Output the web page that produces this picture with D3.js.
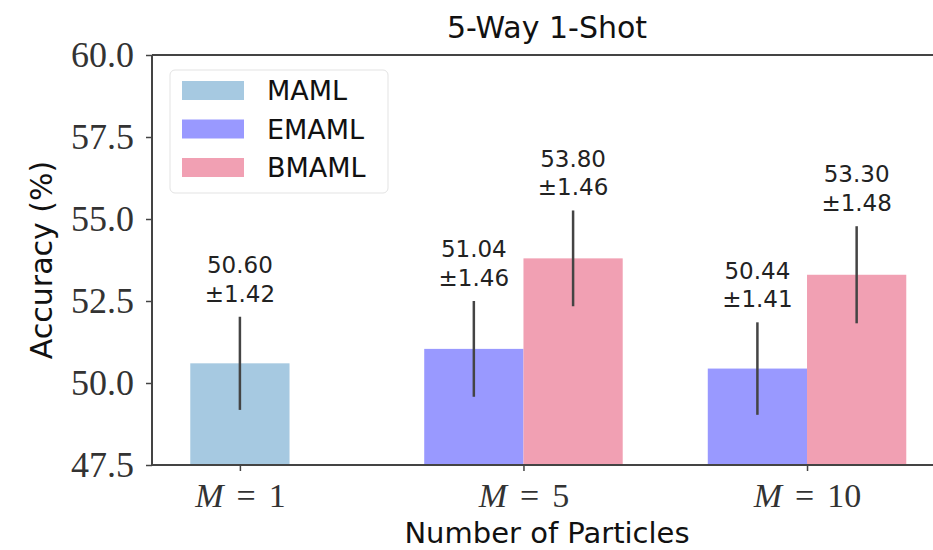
<!DOCTYPE html>
<html>
<head>
<meta charset="utf-8">
<script src="https://cdn.jsdelivr.net/npm/d3@7"></script>
<style>
  body { margin: 0; background: #fff; }
  svg { display: block; }
</style>
</head>
<body>
<div id="wrapper"></div>
<script>
const groupLabels = ['1', '5', '10']
const methods = ['MAML', 'EMAML', 'BMAML']
const methodColors = ['#a6c9e1', '#9999ff', '#f1a0b3']

// group index each bar belongs to, mean and std
const mamlGroups = [0]
const mamlMean = [50.60]
const mamlErr = [1.42]

const emamlGroups = [1, 2]
const emamlMean = [51.04, 50.44]
const emamlErr = [1.46, 1.41]

const bmamlGroups = [1, 2]
const bmamlMean = [53.80, 53.30]
const bmamlErr = [1.46, 1.48]

const yTicks = [47.5, 50.0, 52.5, 55.0, 57.5, 60.0]

const dimensions = {
  width: 933,
  height: 550,
  margins: { top: 55, left: 152, bottom: 85, right: -9 },
}
dimensions.boundedWidth = dimensions.width - dimensions.margins.left - dimensions.margins.right
dimensions.boundedHeight = dimensions.height - dimensions.margins.top - dimensions.margins.bottom

const barWidth = 0.35
const offsets = [0, -barWidth / 2, barWidth / 2]

const bars = []
const addSeries = (k, groups, means, errs) => {
  groups.forEach((g, i) => bars.push({
    method: k, x: g + offsets[k], mean: means[i], err: errs[i],
  }))
}
addSeries(0, mamlGroups, mamlMean, mamlErr)
addSeries(1, emamlGroups, emamlMean, emamlErr)
addSeries(2, bmamlGroups, bmamlMean, bmamlErr)

const wrapper = d3.select('#wrapper')
  .append('svg')
    .attr('width', dimensions.width)
    .attr('height', dimensions.height)

const bounds = wrapper.append('g')
    .attr('transform', `translate(${dimensions.margins.left},${dimensions.margins.top})`)

const xScale = d3.scaleLinear()
    .domain([-0.31, 2.476])
    .range([0, dimensions.boundedWidth])

const yScale = d3.scaleLinear()
    .domain([47.5, 60])
    .range([dimensions.boundedHeight, 0])

// bars
const bw = xScale(barWidth) - xScale(0)
bounds.append('g')
  .selectAll('rect')
  .data(bars)
  .join('rect')
    .attr('x', d => xScale(d.x) - bw / 2)
    .attr('y', d => yScale(d.mean))
    .attr('width', bw)
    .attr('height', d => dimensions.boundedHeight - yScale(d.mean))
    .attr('fill', d => methodColors[d.method])

// error bars
bounds.append('g')
  .selectAll('line')
  .data(bars)
  .join('line')
    .attr('x1', d => xScale(d.x))
    .attr('x2', d => xScale(d.x))
    .attr('y1', d => yScale(d.mean - d.err))
    .attr('y2', d => yScale(d.mean + d.err))
    .attr('stroke', '#444')
    .attr('stroke-width', 2.5)

// value labels
const labels = bounds.append('g')
  .selectAll('text')
  .data(bars)
  .join('text')
    .attr('x', d => xScale(d.x))
    .attr('y', d => yScale(d.mean + d.err) - 15)
    .attr('text-anchor', 'middle')
    .style('font-family', 'DejaVu Sans, sans-serif')
    .style('font-size', '23px')
    .attr('fill', '#222')
labels.append('tspan')
    .attr('x', d => xScale(d.x))
    .attr('dy', '-1.25em')
    .text(d => d.mean.toFixed(2))
labels.append('tspan')
    .attr('x', d => xScale(d.x))
    .attr('dy', '1.25em')
    .text(d => '\u00b1' + d.err.toFixed(2))

// axes
const yAxis = bounds.append('g')
  .call(d3.axisLeft(yScale).tickValues(yTicks).tickFormat(d3.format('.1f')).tickSize(6).tickPadding(12))
yAxis.select('.domain').remove()
yAxis.selectAll('line').attr('stroke', '#444').attr('stroke-width', 1.5)
yAxis.selectAll('text')
    .style('font-family', 'Liberation Serif, serif')
    .style('font-size', '36px')
    .attr('fill', '#333')

const xAxis = bounds.append('g')
    .attr('transform', `translate(0,${dimensions.boundedHeight})`)
  .call(d3.axisBottom(xScale).tickValues([0, 1, 2]).tickSize(6).tickPadding(12))
xAxis.select('.domain').remove()
xAxis.selectAll('line').attr('stroke', '#444').attr('stroke-width', 1.5)
xAxis.selectAll('text')
    .style('font-family', 'Liberation Serif, serif')
    .style('font-size', '34px')
    .attr('fill', '#333')
    .attr('dy', '0.7em')
    .text('')
    .each(function (d) {
      const t = d3.select(this)
      t.append('tspan').style('font-style', 'italic').text('M')
      t.append('tspan').attr('dx', 13).text('=')
      t.append('tspan').attr('dx', 13).text(groupLabels[d])
    })

// spines
const spines = bounds.append('g')
    .attr('stroke', '#444')
    .attr('stroke-width', 2)
spines.append('line')
    .attr('x1', 0).attr('x2', dimensions.boundedWidth)
    .attr('y1', 0).attr('y2', 0)
spines.append('line')
    .attr('x1', 0).attr('x2', dimensions.boundedWidth)
    .attr('y1', dimensions.boundedHeight).attr('y2', dimensions.boundedHeight)
spines.append('line')
    .attr('x1', 0).attr('x2', 0)
    .attr('y1', 0).attr('y2', dimensions.boundedHeight)
spines.append('line')
    .attr('x1', dimensions.boundedWidth).attr('x2', dimensions.boundedWidth)
    .attr('y1', 0).attr('y2', dimensions.boundedHeight)

// title and axis labels
wrapper.append('text')
    .attr('x', dimensions.margins.left + dimensions.boundedWidth / 2)
    .attr('y', 38)
    .attr('text-anchor', 'middle')
    .style('font-family', 'DejaVu Sans, sans-serif')
    .style('font-size', '30px')
    .attr('fill', '#111')
    .text('5-Way 1-Shot')

wrapper.append('text')
    .attr('x', dimensions.margins.left + dimensions.boundedWidth / 2)
    .attr('y', 543)
    .attr('text-anchor', 'middle')
    .style('font-family', 'DejaVu Sans, sans-serif')
    .style('font-size', '29px')
    .attr('fill', '#111')
    .text('Number of Particles')

wrapper.append('text')
    .attr('transform', `translate(52,${dimensions.margins.top + dimensions.boundedHeight / 2}) rotate(-90)`)
    .attr('text-anchor', 'middle')
    .style('font-family', 'DejaVu Sans, sans-serif')
    .style('font-size', '30px')
    .attr('fill', '#111')
    .text('Accuracy (%)')

// legend
const legend = bounds.append('g')
    .attr('transform', 'translate(18,15)')
legend.append('rect')
    .attr('width', 218)
    .attr('height', 123)
    .attr('rx', 5)
    .attr('fill', '#fff')
    .attr('fill-opacity', 0.8)
    .attr('stroke', '#e3e3e3')
const items = legend.selectAll('g.item')
  .data(methods)
  .join('g')
    .attr('class', 'item')
    .attr('transform', (d, i) => `translate(12,${11 + i * 38.5})`)
items.append('rect')
    .attr('width', 62)
    .attr('height', 19)
    .attr('fill', (d, i) => methodColors[i])
items.append('text')
    .attr('x', 85)
    .attr('y', 9.5)
    .attr('dy', '0.36em')
    .style('font-family', 'DejaVu Sans, sans-serif')
    .style('font-size', '27px')
    .attr('fill', '#111')
    .text(d => d)
</script>
</body>
</html>
